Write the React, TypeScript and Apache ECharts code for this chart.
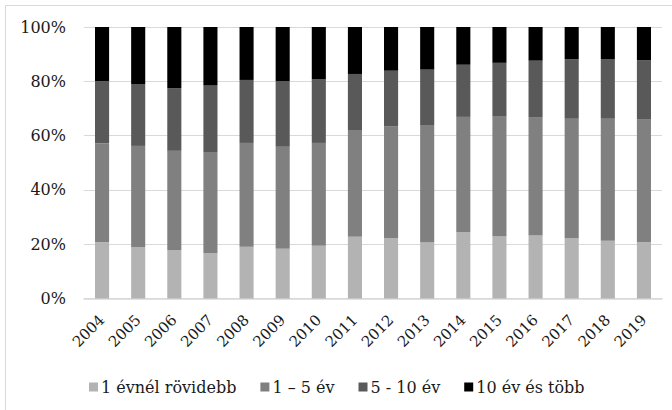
import React, { useEffect, useRef } from "react";
import * as echarts from "echarts";

const years = ["2004","2005","2006","2007","2008","2009","2010","2011","2012","2013","2014","2015","2016","2017","2018","2019"];
const lessThan1 = [20.7,19.0,17.9,16.8,19.1,18.3,19.4,22.7,22.2,20.6,24.5,22.8,23.2,22.2,21.3,20.8];
const oneToFive = [36.5,37.2,36.5,37.2,38.2,37.6,37.9,39.1,41.1,43.3,42.4,44.2,43.4,44.0,44.9,45.1];
const fiveToTen = [22.9,22.8,23.1,24.6,23.2,24.2,23.4,20.9,20.6,20.4,19.2,19.8,21.0,21.9,22.0,21.9];
const tenPlus = [19.9,21.0,22.5,21.4,19.5,19.9,19.3,17.3,16.1,15.7,13.9,13.2,12.4,11.9,11.8,12.2];
const seriesNames = ["1 évnél rövidebb", "1 – 5 év", "5 - 10 év", "10 év és több"];
const seriesColors = ["#b3b3b3", "#808080", "#595959", "#000000"];

const FONT = "DejaVu Serif";

export default function App() {
  const ref = useRef<HTMLDivElement>(null);
  useEffect(() => {
    if (!ref.current) return;
    const chart = echarts.init(ref.current, null, { renderer: "svg" });
    const data = [lessThan1, oneToFive, fiveToTen, tenPlus];
    chart.setOption({
      animation: false,
      backgroundColor: "#ffffff",
      textStyle: { fontFamily: FONT },
      graphic: [
        {
          type: "rect",
          shape: { x: 5.5, y: 5.5, width: 720, height: 460 },
          style: { fill: "none", stroke: "#d9d9d9", lineWidth: 1 },
          silent: true,
        },
      ],
      grid: { left: 84, right: 10, top: 27, bottom: 111.5 },
      legend: {
        bottom: 10,
        left: 84,
        icon: "rect",
        itemWidth: 9,
        itemHeight: 9,
        itemGap: 24,
        data: seriesNames,
        textStyle: { fontFamily: FONT, fontSize: 16, color: "#1a1a1a", padding: [0, 0, 0, -2] },
      },
      xAxis: {
        type: "category",
        data: years,
        axisLine: { show: true, lineStyle: { color: "#d9d9d9", width: 1.5 } },
        axisTick: { show: false },
        axisLabel: { rotate: 45, fontSize: 15, color: "#1a1a1a", margin: 19, fontFamily: FONT },
      },
      yAxis: {
        type: "value",
        min: 0,
        max: 100,
        interval: 20,
        axisLine: { show: false },
        axisTick: { show: false },
        splitLine: { lineStyle: { color: "#d9d9d9", width: 1 } },
        axisLabel: { formatter: "{value}%", fontSize: 16, color: "#1a1a1a", margin: 18, fontFamily: FONT },
      },
      series: seriesNames.map((name, i) => ({
        name,
        type: "bar",
        stack: "total",
        barWidth: "39%",
        data: data[i],
        itemStyle: { color: seriesColors[i] },
      })),
    });
    return () => chart.dispose();
  }, []);
  return <div ref={ref} style={{ position: "fixed", left: 0, top: 0, width: 672, height: 410 }} />;
}
